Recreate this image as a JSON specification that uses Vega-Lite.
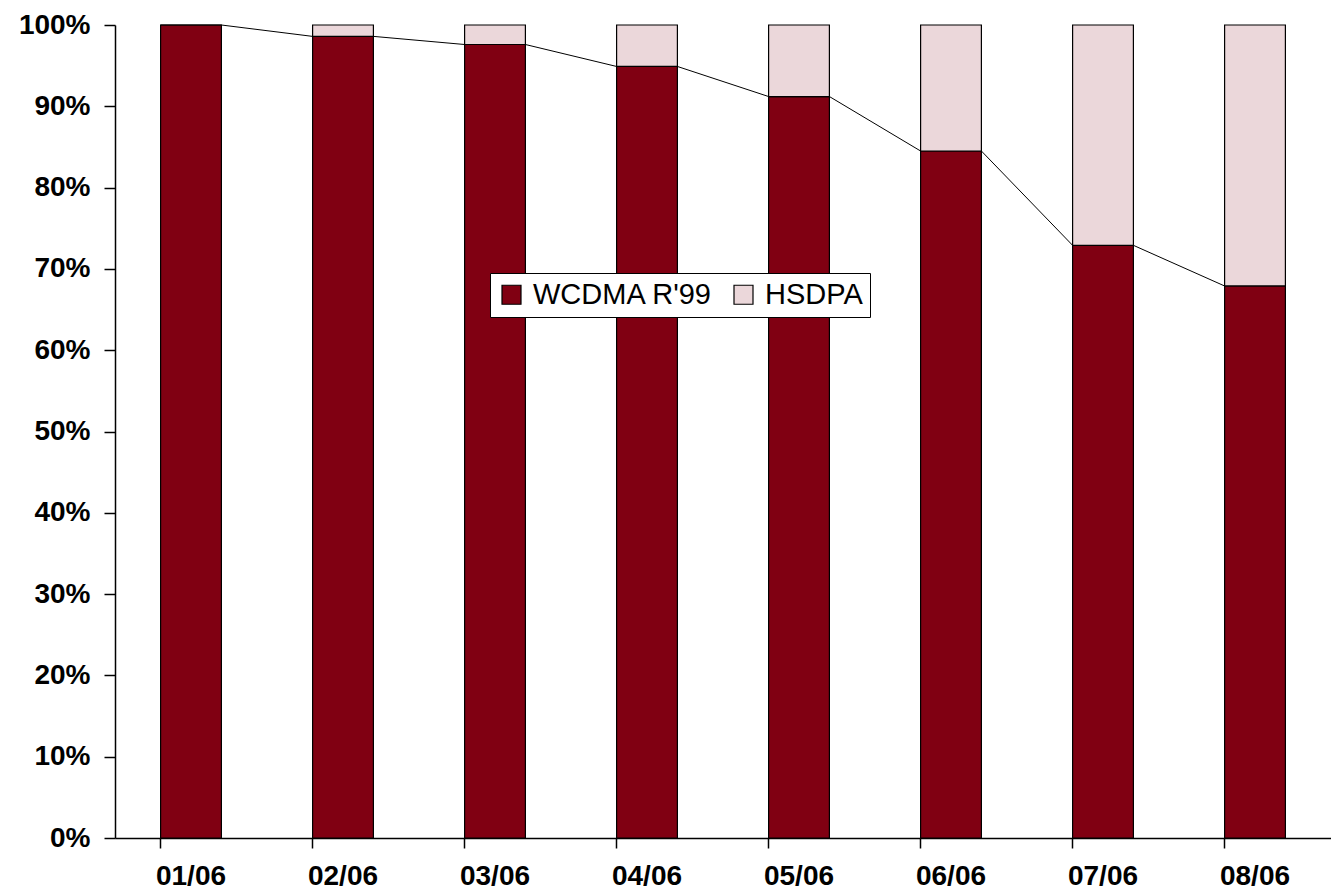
{
  "$schema": "https://vega.github.io/schema/vega-lite/v6.json",
  "autosize": "none",
  "padding": {"left": 115, "top": 25, "right": 0, "bottom": 57},
  "width": 1216,
  "height": 813,
  "background": "white",
  "view": {"stroke": null},
  "config": {
    "font": "Liberation Sans",
    "axis": {"labelFont": "Liberation Sans", "labelFontWeight": "bold", "labelFontSize": 28, "labelColor": "black", "domainColor": "black", "tickColor": "black", "grid": false, "title": null}
  },
  "datasets": {
    "bars": [
      {"month": "01/06", "series": "WCDMA R'99", "ord": 1, "value": 1.0},
      {"month": "02/06", "series": "WCDMA R'99", "ord": 1, "value": 0.986},
      {"month": "03/06", "series": "WCDMA R'99", "ord": 1, "value": 0.976},
      {"month": "04/06", "series": "WCDMA R'99", "ord": 1, "value": 0.949},
      {"month": "05/06", "series": "WCDMA R'99", "ord": 1, "value": 0.912},
      {"month": "06/06", "series": "WCDMA R'99", "ord": 1, "value": 0.845},
      {"month": "07/06", "series": "WCDMA R'99", "ord": 1, "value": 0.729},
      {"month": "08/06", "series": "WCDMA R'99", "ord": 1, "value": 0.679},
      {"month": "01/06", "series": "HSDPA", "ord": 2, "value": 0.0},
      {"month": "02/06", "series": "HSDPA", "ord": 2, "value": 0.014},
      {"month": "03/06", "series": "HSDPA", "ord": 2, "value": 0.024},
      {"month": "04/06", "series": "HSDPA", "ord": 2, "value": 0.051},
      {"month": "05/06", "series": "HSDPA", "ord": 2, "value": 0.088},
      {"month": "06/06", "series": "HSDPA", "ord": 2, "value": 0.155},
      {"month": "07/06", "series": "HSDPA", "ord": 2, "value": 0.271},
      {"month": "08/06", "series": "HSDPA", "ord": 2, "value": 0.321}
    ],
    "lines": [
      {"from": "01/06", "to": "02/06", "v1": 1.0, "v2": 0.986},
      {"from": "02/06", "to": "03/06", "v1": 0.986, "v2": 0.976},
      {"from": "03/06", "to": "04/06", "v1": 0.976, "v2": 0.949},
      {"from": "04/06", "to": "05/06", "v1": 0.949, "v2": 0.912},
      {"from": "05/06", "to": "06/06", "v1": 0.912, "v2": 0.845},
      {"from": "06/06", "to": "07/06", "v1": 0.845, "v2": 0.729},
      {"from": "07/06", "to": "08/06", "v1": 0.729, "v2": 0.679}
    ]
  },
  "layer": [
    {
      "data": {"name": "bars"},
      "mark": {"type": "bar", "stroke": "black", "strokeWidth": 1.2},
      "encoding": {
        "x": {
          "field": "month", "type": "nominal",
          "scale": {"paddingInner": 0.6, "paddingOuter": 0.3},
          "axis": {"labelAngle": 0, "bandPosition": 0, "tickSize": 10, "labelPadding": 14, "domainWidth": 1.5, "tickWidth": 1.5}
        },
        "y": {
          "field": "value", "type": "quantitative", "stack": "zero",
          "scale": {"domain": [0, 1]},
          "axis": {"format": ".0%", "values": [0, 0.1, 0.2, 0.3, 0.4, 0.5, 0.6, 0.7, 0.8, 0.9, 1.0], "tickSize": 11, "labelPadding": 14, "domainWidth": 1.5, "tickWidth": 1.5}
        },
        "color": {
          "field": "series", "type": "nominal",
          "scale": {"domain": ["WCDMA R'99", "HSDPA"], "range": ["#800012", "#EBD7DA"]},
          "legend": {
            "title": null, "orient": "none", "legendX": 375, "legendY": 248,
            "direction": "horizontal", "columns": 2,
            "symbolType": "square", "symbolSize": 361, "symbolStrokeColor": "black", "symbolStrokeWidth": 1.2,
            "labelFont": "Liberation Sans", "labelFontSize": 29, "labelColor": "black", "labelLimit": 400,
            "fillColor": "white", "strokeColor": "black", "padding": 7, "columnPadding": 16, "labelOffset": 7
          }
        },
        "order": {"field": "ord", "type": "quantitative"}
      }
    },
    {
      "data": {"name": "lines"},
      "mark": {"type": "rule", "color": "black", "strokeWidth": 1},
      "encoding": {
        "x": {"field": "from", "type": "nominal", "bandPosition": 1},
        "x2": {"field": "to", "bandPosition": 0},
        "y": {"field": "v1", "type": "quantitative"},
        "y2": {"field": "v2"}
      }
    },
    {
      "mark": {"type": "rule", "color": "#808080", "strokeWidth": 1.5},
      "encoding": {"y": {"datum": 1.0}}
    }
  ]
}
